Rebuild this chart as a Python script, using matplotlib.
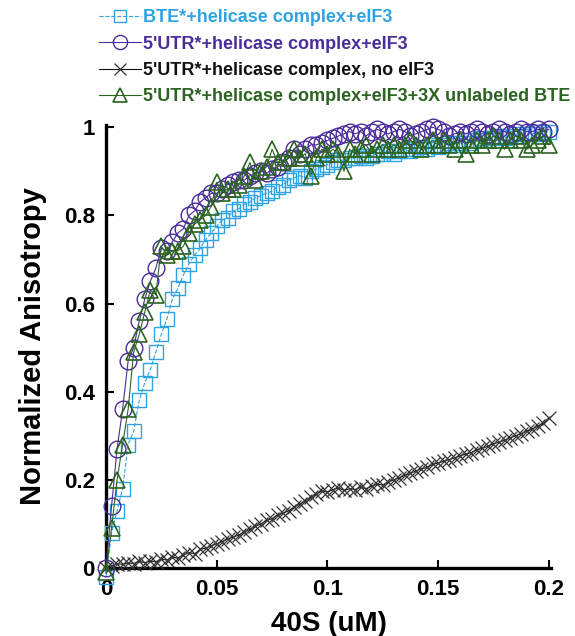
import matplotlib
matplotlib.use("Agg")
import matplotlib.pyplot as plt

plt.rcParams['font.family'] = ['Liberation Sans', 'DejaVu Sans']
plt.rcParams['font.weight'] = 'bold'

# 40S concentration (uM)
conc = [0.0, 0.0025, 0.005, 0.0075, 0.01, 0.0125, 0.015, 0.0175, 0.02, 0.0225,
        0.025, 0.0275, 0.03, 0.0325, 0.035, 0.0375, 0.04, 0.0425, 0.045, 0.0475,
        0.05, 0.0525, 0.055, 0.0575, 0.06, 0.0625, 0.065, 0.0675, 0.07, 0.0725,
        0.075, 0.0775, 0.08, 0.0825, 0.085, 0.0875, 0.09, 0.0925, 0.095, 0.0975,
        0.1, 0.1025, 0.105, 0.1075, 0.11, 0.1125, 0.115, 0.1175, 0.12, 0.1225,
        0.125, 0.1275, 0.13, 0.1325, 0.135, 0.1375, 0.14, 0.1425, 0.145, 0.1475,
        0.15, 0.1525, 0.155, 0.1575, 0.16, 0.1625, 0.165, 0.1675, 0.17, 0.1725,
        0.175, 0.1775, 0.18, 0.1825, 0.185, 0.1875, 0.19, 0.1925, 0.195, 0.1975,
        0.2]

bte_elf3 = [-0.02, 0.08, 0.13, 0.18, 0.28, 0.31, 0.38, 0.42, 0.45, 0.49,
            0.53, 0.565, 0.61, 0.635, 0.665, 0.69, 0.71, 0.725, 0.745, 0.76,
            0.775, 0.79, 0.795, 0.81, 0.815, 0.825, 0.83, 0.84, 0.845, 0.85,
            0.855, 0.865, 0.87, 0.88, 0.885, 0.89, 0.885, 0.90, 0.905, 0.91,
            0.915, 0.92, 0.925, 0.925, 0.93, 0.93, 0.935, 0.93, 0.935, 0.94,
            0.94, 0.945, 0.94, 0.945, 0.95, 0.945, 0.95, 0.955, 0.95, 0.96,
            0.955, 0.96, 0.965, 0.96, 0.965, 0.97, 0.965, 0.97, 0.975, 0.97,
            0.975, 0.98, 0.975, 0.98, 0.985, 0.98, 0.985, 0.985, 0.99, 0.985,
            0.99]

utr_elf3 = [0.0, 0.14, 0.27, 0.36, 0.47, 0.50, 0.56, 0.61, 0.65, 0.68,
            0.725, 0.72, 0.74, 0.76, 0.77, 0.80, 0.81, 0.83, 0.84, 0.85,
            0.85, 0.86, 0.87, 0.875, 0.88, 0.88, 0.89, 0.895, 0.90, 0.895,
            0.905, 0.91, 0.92, 0.93, 0.95, 0.94, 0.95, 0.96, 0.96, 0.965,
            0.97, 0.975, 0.98, 0.985, 0.99, 0.985, 0.99, 0.98, 0.99, 0.995,
            0.99, 0.985, 0.99, 0.995, 0.99, 0.98, 0.985, 0.99, 0.995, 1.0,
            0.995, 0.99, 0.98, 0.985, 0.99, 0.985, 0.99, 0.995, 0.99, 0.985,
            0.99, 0.995, 0.99, 0.985, 0.99, 0.995, 0.99, 0.99, 0.995, 0.99,
            0.995]

utr_no_elf3 = [0.0, 0.005, 0.01, 0.008, 0.012, 0.01, 0.015, 0.012, 0.016, 0.014,
               0.02, 0.018, 0.025, 0.022, 0.03, 0.035, 0.032, 0.042, 0.045, 0.05,
               0.055, 0.06, 0.066, 0.07, 0.075, 0.082, 0.088, 0.095, 0.10, 0.108,
               0.112, 0.12, 0.124, 0.13, 0.138, 0.145, 0.152, 0.16, 0.168, 0.175,
               0.172, 0.178, 0.182, 0.176, 0.18, 0.178, 0.183, 0.18, 0.186, 0.19,
               0.188, 0.195, 0.20, 0.205, 0.21, 0.215, 0.22, 0.225, 0.228, 0.235,
               0.238, 0.242, 0.246, 0.25, 0.255, 0.258, 0.262, 0.268, 0.272, 0.276,
               0.282, 0.285, 0.29, 0.295, 0.30, 0.305, 0.31, 0.315, 0.322, 0.328,
               0.34]

utr_elf3_bte = [-0.01, 0.09, 0.20, 0.28, 0.36, 0.49, 0.53, 0.58, 0.63, 0.62,
                0.73, 0.71, 0.72, 0.72, 0.73, 0.76, 0.78, 0.79, 0.80, 0.82,
                0.875, 0.85, 0.86, 0.86, 0.87, 0.89, 0.92, 0.88, 0.90, 0.91,
                0.95, 0.92, 0.92, 0.93, 0.95, 0.93, 0.94, 0.89, 0.93, 0.95,
                0.94, 0.95, 0.94, 0.90, 0.95, 0.94, 0.95, 0.96, 0.94, 0.95,
                0.96, 0.95, 0.96, 0.95, 0.96, 0.97, 0.96, 0.95, 0.96, 0.97,
                0.96, 0.97, 0.96, 0.95, 0.97, 0.94, 0.96, 0.97, 0.96, 0.97,
                0.98, 0.97, 0.95, 0.97, 0.98, 0.97, 0.95, 0.96, 0.97, 0.98,
                0.96]

labels = ["BTE*+helicase complex+eIF3",
          "5'UTR*+helicase complex+eIF3",
          "5'UTR*+helicase complex, no eIF3",
          "5'UTR*+helicase complex+eIF3+3X unlabeled BTE"]

x_ticks = [0, 0.05, 0.1, 0.15, 0.2]
x_ticklabels = ["0", "0.05", "0.1", "0.15", "0.2"]
y_ticks = [0, 0.2, 0.4, 0.6, 0.8, 1.0]
y_ticklabels = ["0", "0.2", "0.4", "0.6", "0.8", "1"]

c_blue = "#2ea3e3"
c_purple = "#4a2c9c"
c_black = "#111111"
c_green = "#2b6320"

fig = plt.figure(figsize=(5.75, 6.36), dpi=100)
ax = fig.add_axes([106 / 575, (636 - 568) / 636, 445 / 575, 443 / 636])

h1, = ax.plot(conc, bte_elf3, color=c_blue, ls='--', lw=0.8, marker='s', ms=10.5,
              mfc='none', mec=c_blue, mew=1.0, clip_on=False)
h2, = ax.plot(conc, utr_elf3, color=c_purple, ls='-', lw=0.8, marker='o', ms=12,
              mfc='none', mec=c_purple, mew=1.0, clip_on=False)
h3, = ax.plot(conc, utr_no_elf3, color=c_black, ls='-', lw=0.8, marker='x', ms=10,
              mfc='none', mec='#333333', mew=0.9, clip_on=False)
h4, = ax.plot(conc, utr_elf3_bte, color=c_green, ls='-', lw=0.8, marker='^', ms=12,
              mfc='none', mec=c_green, mew=1.2, clip_on=False)

ax.set_xlim(0, 0.201)
ax.set_ylim(0, 1.005)
for s in ['top', 'right']:
    ax.spines[s].set_visible(False)
for s in ['left', 'bottom']:
    ax.spines[s].set_linewidth(2.4)
    ax.spines[s].set_color('black')
    ax.spines[s].set_zorder(0.5)

ax.set_xticks(x_ticks)
ax.set_xticklabels(x_ticklabels)
ax.set_yticks(y_ticks)
ax.set_yticklabels(y_ticklabels)
ax.tick_params(direction='in', length=6, width=1.5, labelsize=16, pad=8)
for lab in ax.get_xticklabels() + ax.get_yticklabels():
    lab.set_fontweight('bold')

ax.set_xlabel("40S (uM)", fontsize=20, fontweight='bold', labelpad=8)
ax.set_ylabel("Normalized Anisotropy", fontsize=21, fontweight='bold', labelpad=12)

leg = fig.legend([h1, h2, h3, h4], labels, loc='upper left',
                 bbox_to_anchor=(92 / 575, 1 - 2 / 636), frameon=False,
                 fontsize=13, handlelength=2.3, handletextpad=0.1,
                 labelspacing=0.52, borderaxespad=0, markerscale=0.85)
for txt, col in zip(leg.get_texts(), [c_blue, c_purple, c_black, c_green]):
    txt.set_color(col)
    txt.set_fontweight('bold')

fig.savefig("out.png", dpi=100)
